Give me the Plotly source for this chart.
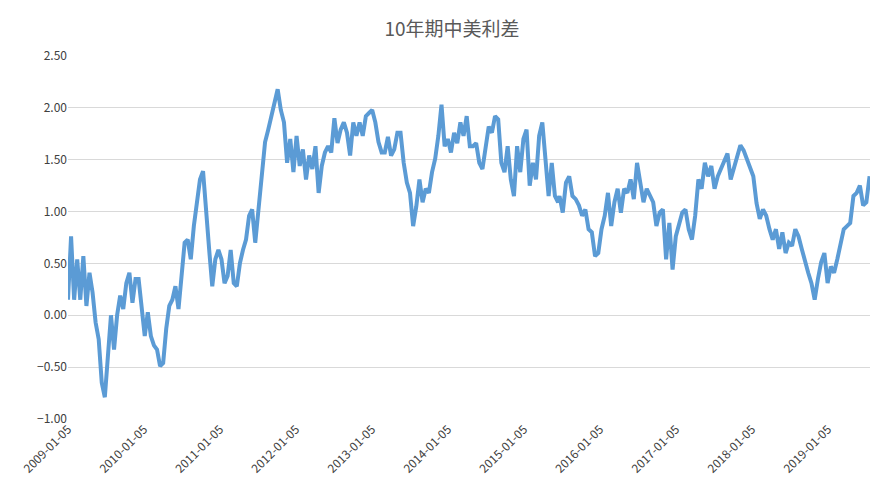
import pandas as pd
import plotly.graph_objects as go

# 10年期中美利差 in three stretches
seg1_values = [0.15, 0.76, 0.15, 0.54, 0.15, 0.57, 0.09, 0.41, 0.22, -0.07, -0.23, -0.65, -0.79,
               -0.33, 0.0, -0.33, 0.0, 0.19, 0.06, 0.31, 0.41, 0.12, 0.35, 0.35, 0.09, -0.2, 0.03,
               -0.2, -0.29, -0.33, -0.49, -0.46, -0.13, 0.09, 0.15, 0.28, 0.06, 0.35, 0.7, 0.73,
               0.54, 0.86, 1.08, 1.31, 1.39, 0.96, 0.63, 0.28, 0.54, 0.63, 0.54, 0.31, 0.38, 0.63,
               0.31, 0.28, 0.5, 0.63, 0.73, 0.96, 1.02, 0.7, 1.02, 1.28, 1.6]
seg2_values = [1.67, 1.79, 1.93, 2.08, 2.18, 1.98, 1.86, 1.47, 1.7, 1.38, 1.73, 1.44, 1.6, 1.31, 1.54,
               1.41, 1.63, 1.18, 1.44, 1.57, 1.63, 1.57, 1.9, 1.66, 1.79, 1.86, 1.76, 1.54, 1.86,
               1.73, 1.86, 1.73, 1.92, 1.95, 1.98, 1.86, 1.67, 1.57, 1.57, 1.72, 1.54, 1.6, 1.76,
               1.76, 1.47, 1.28, 1.18, 0.86, 1.05, 1.31, 1.09, 1.22, 1.18, 1.38, 1.51, 1.73, 2.03,
               1.63, 1.7, 1.57, 1.76, 1.66, 1.86, 1.73, 1.92, 1.63, 1.63, 1.66, 1.47, 1.41, 1.6,
               1.82, 1.76, 1.92, 1.89, 1.47, 1.38, 1.63, 1.31, 1.15, 1.63, 1.38, 1.7, 1.79, 1.25,
               1.47, 1.31, 1.73, 1.86, 1.47, 1.15, 1.47, 1.15, 1.09]
seg3_values = [1.15, 0.99, 1.28, 1.34, 1.15, 1.12, 1.06, 0.96, 1.02, 0.83, 0.8, 0.57, 0.6, 0.83,
               0.96, 1.18, 0.86, 1.09, 1.22, 0.99, 1.22, 1.18, 1.31, 1.12, 1.47, 1.28, 1.09, 1.22,
               1.15, 1.09, 0.86, 0.99, 1.02, 0.54, 0.89, 0.44, 0.76, 0.86, 0.99, 1.02, 0.83, 0.73,
               0.96, 1.31, 1.22, 1.47, 1.34, 1.44, 1.22, 1.34, 1.41, 1.5, 1.56, 1.31, 1.41, 1.53,
               1.64, 1.59, 1.5, 1.41, 1.34, 1.08, 0.93, 1.02, 0.96, 0.83, 0.73, 0.83, 0.64, 0.8,
               0.6, 0.7, 0.67, 0.83, 0.76, 0.64, 0.51, 0.41, 0.31, 0.15, 0.35, 0.51, 0.6, 0.31,
               0.47, 0.41, 0.54, 0.67, 0.83, 0.86, 0.89, 1.15, 1.18, 1.25, 1.06, 1.09, 1.34]

seg_bounds = [("2009-01-05", "2011-08-07"), ("2011-08-10", "2015-06-18"), ("2015-06-25", "2019-07-24")]
tick_labels = ["2009-01-05", "2010-01-05", "2011-01-05", "2012-01-05", "2013-01-05", "2014-01-05",
               "2015-01-05", "2016-01-05", "2017-01-05", "2018-01-05", "2019-01-05"]

dates, values = [], []
for (a, b), vals in zip(seg_bounds, [seg1_values, seg2_values, seg3_values]):
    dates += list(pd.date_range(a, b, periods=len(vals)))
    values += vals

fig = go.Figure(go.Scatter(x=dates, y=values, mode="lines",
                           line=dict(color="#5b9bd5", width=4)))
fig.update_layout(
    title=dict(text="10年期中美利差", x=0.5, y=0.958, xanchor="center", yanchor="middle",
               font=dict(size=19, color="#595959")),
    width=888, height=498, plot_bgcolor="white", paper_bgcolor="white",
    font=dict(family="Noto Sans CJK SC", color="#404040", size=12),
    margin=dict(l=60, r=26, t=48, b=87), showlegend=False,
    xaxis=dict(type="date", tickvals=tick_labels, ticktext=tick_labels, tickangle=-45,
               showgrid=False, range=["2009-01-05", "2019-07-26"], ticks="",
               tickfont=dict(size=12)),
    yaxis=dict(range=[-1, 2.5], dtick=0.5, tickformat=".2f", gridcolor="#d9d9d9",
               zeroline=False, tickfont=dict(size=12)),
)
fig.write_html("out.html")
